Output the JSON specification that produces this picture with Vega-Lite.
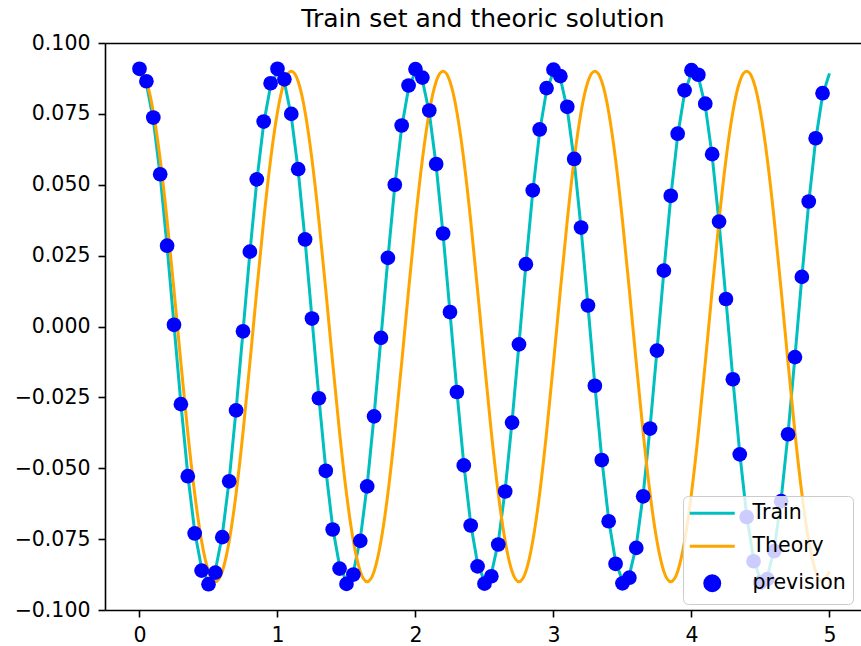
{
  "$schema": "https://vega.github.io/schema/vega-lite/v6.json",
  "width": 756,
  "height": 567,
  "autosize": {"type": "none"},
  "padding": {"left": 105, "top": 43, "right": 0, "bottom": 36},
  "background": "white",
  "config": {
    "view": {"stroke": null},
    "font": "DejaVu Sans",
    "axis": {"grid": false, "domainColor": "black", "domainWidth": 1.6, "tickColor": "black", "tickWidth": 1.6, "tickSize": 7, "labelColor": "black", "labelFont": "DejaVu Sans", "labelFontSize": 20.5, "labelPadding": 8, "labelFlush": false, "labelOverlap": false, "labelBound": false, "title": null}
  },
  "title": {"text": "Train set and theoric solution", "font": "DejaVu Sans", "fontSize": 25, "fontWeight": "normal", "color": "black", "anchor": "middle", "offset": 1},
  "datasets": {
    "train": [
      {"t":0,"y":0.09},{"t":0.05,"y":0.0856},{"t":0.1,"y":0.0729},{"t":0.15,"y":0.0532},{"t":0.2,"y":0.0282},{"t":0.25,"y":0.0006},{"t":0.3,"y":-0.0272},{"t":0.35,"y":-0.0523},{"t":0.4,"y":-0.0723},{"t":0.45,"y":-0.0853},
      {"t":0.5,"y":-0.09},{"t":0.55,"y":-0.086},{"t":0.6,"y":-0.0736},{"t":0.65,"y":-0.0541},{"t":0.7,"y":-0.0293},{"t":0.75,"y":-0.0017},{"t":0.8,"y":0.0261},{"t":0.85,"y":0.0513},{"t":0.9,"y":0.0716},{"t":0.95,"y":0.0849},
      {"t":1.0,"y":0.09},{"t":1.05,"y":0.0863},{"t":1.1,"y":0.0742},{"t":1.15,"y":0.055},{"t":1.2,"y":0.0304},{"t":1.25,"y":0.0028},{"t":1.3,"y":-0.025},{"t":1.35,"y":-0.0504},{"t":1.4,"y":-0.0709},{"t":1.45,"y":-0.0845},
      {"t":1.5,"y":-0.0899},{"t":1.55,"y":-0.0866},{"t":1.6,"y":-0.0749},{"t":1.65,"y":-0.0559},{"t":1.7,"y":-0.0314},{"t":1.75,"y":-0.0039},{"t":1.8,"y":0.0239},{"t":1.85,"y":0.0495},{"t":1.9,"y":0.0702},{"t":1.95,"y":0.0841},
      {"t":2.0,"y":0.0899},{"t":2.05,"y":0.0869},{"t":2.1,"y":0.0755},{"t":2.15,"y":0.0567},{"t":2.2,"y":0.0325},{"t":2.25,"y":0.0051},{"t":2.3,"y":-0.0228},{"t":2.35,"y":-0.0485},{"t":2.4,"y":-0.0695},{"t":2.45,"y":-0.0837},
      {"t":2.5,"y":-0.0898},{"t":2.55,"y":-0.0872},{"t":2.6,"y":-0.0761},{"t":2.65,"y":-0.0576},{"t":2.7,"y":-0.0335},{"t":2.75,"y":-0.0062},{"t":2.8,"y":0.0217},{"t":2.85,"y":0.0476},{"t":2.9,"y":0.0688},{"t":2.95,"y":0.0833},
      {"t":3.0,"y":0.0898},{"t":3.05,"y":0.0875},{"t":3.1,"y":0.0767},{"t":3.15,"y":0.0585},{"t":3.2,"y":0.0346},{"t":3.25,"y":0.0073},{"t":3.3,"y":-0.0207},{"t":3.35,"y":-0.0466},{"t":3.4,"y":-0.0681},{"t":3.45,"y":-0.0829},
      {"t":3.5,"y":-0.0897},{"t":3.55,"y":-0.0877},{"t":3.6,"y":-0.0773},{"t":3.65,"y":-0.0593},{"t":3.7,"y":-0.0356},{"t":3.75,"y":-0.0084},{"t":3.8,"y":0.0195},{"t":3.85,"y":0.0456},{"t":3.9,"y":0.0673},{"t":3.95,"y":0.0824},
      {"t":4.0,"y":0.0896},{"t":4.05,"y":0.088},{"t":4.1,"y":0.0779},{"t":4.15,"y":0.0602},{"t":4.2,"y":0.0366},{"t":4.25,"y":0.0096},{"t":4.3,"y":-0.0185},{"t":4.35,"y":-0.0447},{"t":4.4,"y":-0.0666},{"t":4.45,"y":-0.082},
      {"t":4.5,"y":-0.0894},{"t":4.55,"y":-0.0882},{"t":4.6,"y":-0.0784},{"t":4.65,"y":-0.061},{"t":4.7,"y":-0.0377},{"t":4.75,"y":-0.0107},{"t":4.8,"y":0.0174},{"t":4.85,"y":0.0437},{"t":4.9,"y":0.0658},{"t":4.95,"y":0.0815},
      {"t":5.0,"y":0.0893}
    ],
    "theory": [
      {"t":0,"y":0.09},{"t":0.05,"y":0.0864},{"t":0.1,"y":0.0757},{"t":0.15,"y":0.0589},{"t":0.2,"y":0.0374},{"t":0.25,"y":0.0128},{"t":0.3,"y":-0.0128},{"t":0.35,"y":-0.0374},{"t":0.4,"y":-0.0589},{"t":0.45,"y":-0.0757},
      {"t":0.5,"y":-0.0864},{"t":0.55,"y":-0.09},{"t":0.6,"y":-0.0864},{"t":0.65,"y":-0.0757},{"t":0.7,"y":-0.0589},{"t":0.75,"y":-0.0374},{"t":0.8,"y":-0.0128},{"t":0.85,"y":0.0128},{"t":0.9,"y":0.0374},{"t":0.95,"y":0.0589},
      {"t":1.0,"y":0.0757},{"t":1.05,"y":0.0864},{"t":1.1,"y":0.09},{"t":1.15,"y":0.0864},{"t":1.2,"y":0.0757},{"t":1.25,"y":0.0589},{"t":1.3,"y":0.0374},{"t":1.35,"y":0.0128},{"t":1.4,"y":-0.0128},{"t":1.45,"y":-0.0374},
      {"t":1.5,"y":-0.0589},{"t":1.55,"y":-0.0757},{"t":1.6,"y":-0.0864},{"t":1.65,"y":-0.09},{"t":1.7,"y":-0.0864},{"t":1.75,"y":-0.0757},{"t":1.8,"y":-0.0589},{"t":1.85,"y":-0.0374},{"t":1.9,"y":-0.0128},{"t":1.95,"y":0.0128},
      {"t":2.0,"y":0.0374},{"t":2.05,"y":0.0589},{"t":2.1,"y":0.0757},{"t":2.15,"y":0.0864},{"t":2.2,"y":0.09},{"t":2.25,"y":0.0864},{"t":2.3,"y":0.0757},{"t":2.35,"y":0.0589},{"t":2.4,"y":0.0374},{"t":2.45,"y":0.0128},
      {"t":2.5,"y":-0.0128},{"t":2.55,"y":-0.0374},{"t":2.6,"y":-0.0589},{"t":2.65,"y":-0.0757},{"t":2.7,"y":-0.0864},{"t":2.75,"y":-0.09},{"t":2.8,"y":-0.0864},{"t":2.85,"y":-0.0757},{"t":2.9,"y":-0.0589},{"t":2.95,"y":-0.0374},
      {"t":3.0,"y":-0.0128},{"t":3.05,"y":0.0128},{"t":3.1,"y":0.0374},{"t":3.15,"y":0.0589},{"t":3.2,"y":0.0757},{"t":3.25,"y":0.0864},{"t":3.3,"y":0.09},{"t":3.35,"y":0.0864},{"t":3.4,"y":0.0757},{"t":3.45,"y":0.0589},
      {"t":3.5,"y":0.0374},{"t":3.55,"y":0.0128},{"t":3.6,"y":-0.0128},{"t":3.65,"y":-0.0374},{"t":3.7,"y":-0.0589},{"t":3.75,"y":-0.0757},{"t":3.8,"y":-0.0864},{"t":3.85,"y":-0.09},{"t":3.9,"y":-0.0864},{"t":3.95,"y":-0.0757},
      {"t":4.0,"y":-0.0589},{"t":4.05,"y":-0.0374},{"t":4.1,"y":-0.0128},{"t":4.15,"y":0.0128},{"t":4.2,"y":0.0374},{"t":4.25,"y":0.0589},{"t":4.3,"y":0.0757},{"t":4.35,"y":0.0864},{"t":4.4,"y":0.09},{"t":4.45,"y":0.0864},
      {"t":4.5,"y":0.0757},{"t":4.55,"y":0.0589},{"t":4.6,"y":0.0374},{"t":4.65,"y":0.0128},{"t":4.7,"y":-0.0128},{"t":4.75,"y":-0.0374},{"t":4.8,"y":-0.0589},{"t":4.85,"y":-0.0757},{"t":4.9,"y":-0.0864},{"t":4.95,"y":-0.09},
      {"t":5.0,"y":-0.0864}
    ],
    "prevision": [
      {"t":0,"y":0.0909},{"t":0.05,"y":0.0865},{"t":0.1,"y":0.0737},{"t":0.15,"y":0.0537},{"t":0.2,"y":0.0285},{"t":0.25,"y":0.0006},{"t":0.3,"y":-0.0274},{"t":0.35,"y":-0.0528},{"t":0.4,"y":-0.073},{"t":0.45,"y":-0.0861},
      {"t":0.5,"y":-0.0909},{"t":0.55,"y":-0.0868},{"t":0.6,"y":-0.0743},{"t":0.65,"y":-0.0546},{"t":0.7,"y":-0.0296},{"t":0.75,"y":-0.0017},{"t":0.8,"y":0.0264},{"t":0.85,"y":0.0519},{"t":0.9,"y":0.0723},{"t":0.95,"y":0.0858},
      {"t":1.0,"y":0.0909},{"t":1.05,"y":0.0872},{"t":1.1,"y":0.075},{"t":1.15,"y":0.0555},{"t":1.2,"y":0.0307},{"t":1.25,"y":0.0028},{"t":1.3,"y":-0.0253},{"t":1.35,"y":-0.0509},{"t":1.4,"y":-0.0716},{"t":1.45,"y":-0.0854},
      {"t":1.5,"y":-0.0908},{"t":1.55,"y":-0.0875},{"t":1.6,"y":-0.0756},{"t":1.65,"y":-0.0564},{"t":1.7,"y":-0.0317},{"t":1.75,"y":-0.004},{"t":1.8,"y":0.0242},{"t":1.85,"y":0.05},{"t":1.9,"y":0.0709},{"t":1.95,"y":0.085},
      {"t":2.0,"y":0.0908},{"t":2.05,"y":0.0878},{"t":2.1,"y":0.0762},{"t":2.15,"y":0.0573},{"t":2.2,"y":0.0328},{"t":2.25,"y":0.0051},{"t":2.3,"y":-0.0231},{"t":2.35,"y":-0.049},{"t":2.4,"y":-0.0702},{"t":2.45,"y":-0.0846},
      {"t":2.5,"y":-0.0907},{"t":2.55,"y":-0.0881},{"t":2.6,"y":-0.0769},{"t":2.65,"y":-0.0582},{"t":2.7,"y":-0.0339},{"t":2.75,"y":-0.0063},{"t":2.8,"y":0.022},{"t":2.85,"y":0.048},{"t":2.9,"y":0.0695},{"t":2.95,"y":0.0841},
      {"t":3.0,"y":0.0906},{"t":3.05,"y":0.0883},{"t":3.1,"y":0.0775},{"t":3.15,"y":0.0591},{"t":3.2,"y":0.0349},{"t":3.25,"y":0.0074},{"t":3.3,"y":-0.0209},{"t":3.35,"y":-0.0471},{"t":3.4,"y":-0.0687},{"t":3.45,"y":-0.0837},
      {"t":3.5,"y":-0.0906},{"t":3.55,"y":-0.0886},{"t":3.6,"y":-0.0781},{"t":3.65,"y":-0.0599},{"t":3.7,"y":-0.036},{"t":3.75,"y":-0.0085},{"t":3.8,"y":0.0197},{"t":3.85,"y":0.0461},{"t":3.9,"y":0.068},{"t":3.95,"y":0.0833},
      {"t":4.0,"y":0.0904},{"t":4.05,"y":0.0888},{"t":4.1,"y":0.0786},{"t":4.15,"y":0.0608},{"t":4.2,"y":0.037},{"t":4.25,"y":0.0097},{"t":4.3,"y":-0.0186},{"t":4.35,"y":-0.0451},{"t":4.4,"y":-0.0672},{"t":4.45,"y":-0.0828},
      {"t":4.5,"y":-0.0903},{"t":4.55,"y":-0.0891},{"t":4.6,"y":-0.0792},{"t":4.65,"y":-0.0616},{"t":4.7,"y":-0.038},{"t":4.75,"y":-0.0108},{"t":4.8,"y":0.0175},{"t":4.85,"y":0.0441},{"t":4.9,"y":0.0664},{"t":4.95,"y":0.0823}
    ]
  },
  "layer": [
    {
      "data": {"name": "train"},
      "mark": {"type": "line", "strokeWidth": 3},
      "encoding": {
        "x": {"field": "t", "type": "quantitative", "scale": {"domain": [-0.25, 5.2286], "nice": false, "zero": false}, "axis": {"orient": "bottom", "values": [0, 1, 2, 3, 4, 5], "format": "d"}},
        "y": {"field": "y", "type": "quantitative", "scale": {"domain": [-0.1, 0.1], "nice": false, "zero": false}, "axis": {"orient": "left", "values": [-0.1, -0.075, -0.05, -0.025, 0, 0.025, 0.05, 0.075, 0.1], "format": ".3f"}},
        "color": {
          "datum": "Train",
          "type": "nominal",
          "scale": {"domain": ["Train", "Theory", "prevision"], "range": ["#00bfbf", "#ffa500", "#0000ff"]},
          "legend": {
            "title": null,
            "orient": "none",
            "legendX": 578,
            "legendY": 453,
            "direction": "vertical",
            "fillColor": "rgba(255,255,255,0.8)",
            "strokeColor": "#cccccc",
            "cornerRadius": 5,
            "padding": 7,
            "rowPadding": 12,
            "labelFont": "DejaVu Sans",
            "labelFontSize": 20.5,
            "labelColor": "black",
            "labelOffset": 30,
            "symbolOffset": 12,
            "symbolSize": 225,
            "symbolStrokeWidth": 3,
            "encode": {
              "symbols": {
                "update": {
                  "shape": {"signal": "datum.value === 'prevision' ? 'circle' : 'M-3,0H3'"},
                  "fill": {"signal": "datum.value === 'prevision' ? '#0000ff' : 'transparent'"},
                  "stroke": {"signal": "datum.value === 'Train' ? '#00bfbf' : (datum.value === 'Theory' ? '#ffa500' : 'transparent')"},
                  "strokeWidth": {"value": 3},
                  "opacity": {"value": 1}
                }
              }
            }
          }
        }
      }
    },
    {
      "data": {"name": "theory"},
      "mark": {"type": "line", "strokeWidth": 3, "interpolate": "natural"},
      "encoding": {
        "x": {"field": "t", "type": "quantitative", "axis": {"orient": "top", "labels": false, "ticks": false, "domain": true}},
        "y": {"field": "y", "type": "quantitative"},
        "color": {"datum": "Theory", "type": "nominal"}
      }
    },
    {
      "data": {"name": "prevision"},
      "mark": {"type": "point", "filled": true, "size": 216, "opacity": 1, "strokeWidth": 0},
      "encoding": {
        "x": {"field": "t", "type": "quantitative", "axis": null},
        "y": {"field": "y", "type": "quantitative"},
        "color": {"datum": "prevision", "type": "nominal"}
      }
    }
  ],
  "resolve": {"axis": {"x": "independent"}}
}
